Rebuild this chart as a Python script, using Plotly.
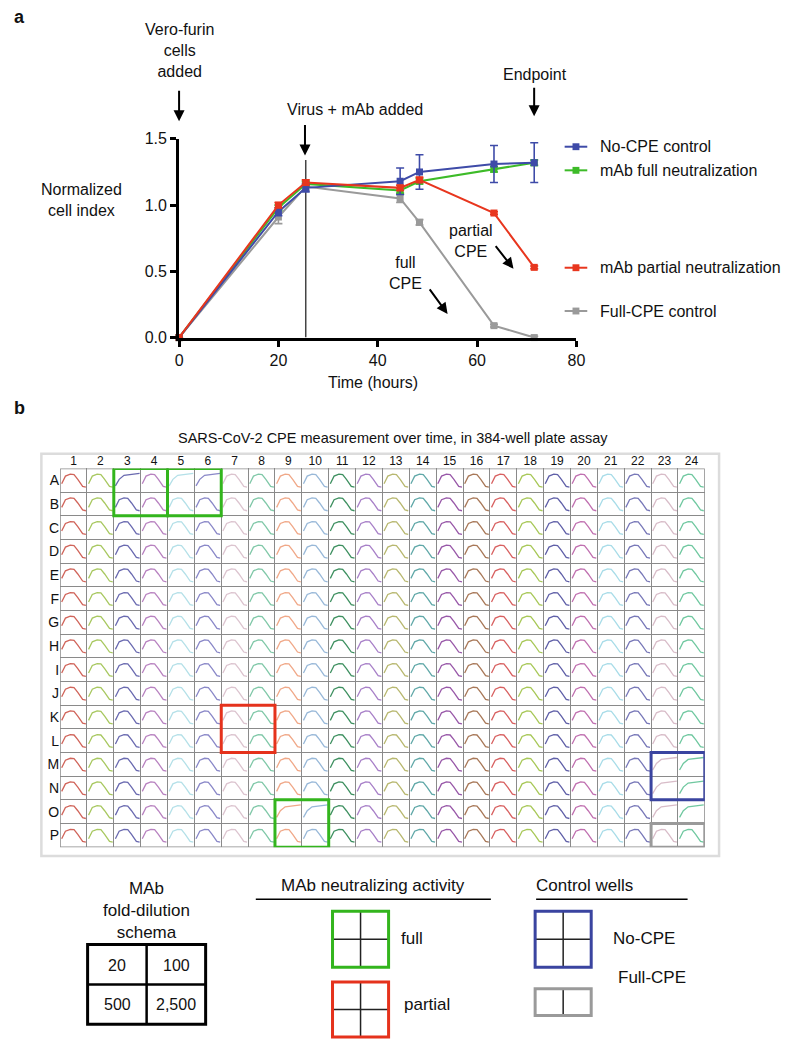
import plotly.graph_objects as go

# ---------------- Panel a data ----------------
time_h = [0, 20, 25.5, 44.5, 48.4, 63.4, 71.5]
no_cpe = [0.0, 0.95, 1.13, 1.18, 1.25, 1.31, 1.32]
no_cpe_err = [0.0, 0.03, 0.03, 0.10, 0.13, 0.14, 0.15]
mab_full = [0.0, 0.98, 1.16, 1.11, 1.18, 1.27, 1.32]
mab_full_err = [0.0, 0.02, 0.02, 0.02, 0.02, 0.02, 0.02]
mab_partial = [0.0, 1.00, 1.17, 1.13, 1.19, 0.94, 0.53]
mab_partial_err = [0.0, 0.02, 0.02, 0.02, 0.02, 0.01, 0.01]
full_cpe = [0.0, 0.91, 1.14, 1.05, 0.87, 0.09, 0.0]
full_cpe_err = [0.0, 0.05, 0.03, 0.03, 0.02, 0.01, 0.01]
series_names = ["No-CPE control", "mAb full neutralization",
                "mAb partial neutralization", "Full-CPE control"]

# ---------------- Panel b data ----------------
col_labels = [str(i) for i in range(1, 25)]
row_labels = list("ABCDEFGHIJKLMNOP")
col_colors = ["#d0645a", "#a8c860", "#6a6ab0", "#b882c0", "#b4e0e8", "#8a88c8",
              "#dcc4cf", "#80c8a8", "#f0a888", "#98b8d8", "#3e9060", "#a880c8",
              "#b8b870", "#60a8a8", "#9858a8", "#a87858", "#d86060", "#a8c858",
              "#6060a8", "#c070b0", "#a8dce8", "#7878b8", "#d8bcc8", "#70c8a0"]
# mini-curve shapes (relative x inside a well, relative height)
curve_x = [0.06, 0.2, 0.38, 0.52, 0.66, 0.84, 0.96]
bell_y = [0.32, 0.72, 0.82, 0.80, 0.55, 0.18, 0.14]
plateau_y = [0.20, 0.55, 0.76, 0.78, 0.80, 0.84, 0.86]
plateau_wells = ["A3", "A5", "A6", "O9", "O10", "M23", "M24", "N23", "N24", "O23", "O24"]
# highlight boxes: (first col, last col, first row, last row, colour)
box_cols0 = [3, 5, 9, 7, 23, 23]
box_cols1 = [4, 6, 10, 8, 24, 24]
box_rows0 = ["A", "A", "O", "K", "M", "P"]
box_rows1 = ["B", "B", "P", "L", "N", "P"]
box_colors = ["#33b51d", "#33b51d", "#33b51d", "#e5321c", "#3a44a0", "#9a9a9a"]
dilutions = ["20", "100", "500", "2,500"]

FONT = "Liberation Sans, Arial, sans-serif"
NARROW = "Liberation Sans Narrow, Liberation Sans, Arial, sans-serif"
W, H = 792, 1050


def px(x):
    return x / W


def py(y):
    return 1 - y / H


fig = go.Figure()

# ---------- panel a traces ----------
colors_a = {"No-CPE control": "#3e4ba8", "mAb full neutralization": "#3dbb28",
            "mAb partial neutralization": "#e8361e", "Full-CPE control": "#9a9a9a"}
data_a = {"No-CPE control": (no_cpe, no_cpe_err),
          "mAb full neutralization": (mab_full, mab_full_err),
          "mAb partial neutralization": (mab_partial, mab_partial_err),
          "Full-CPE control": (full_cpe, full_cpe_err)}
for name in ["Full-CPE control", "mAb full neutralization", "No-CPE control",
             "mAb partial neutralization"]:
    vals, err = data_a[name]
    c = colors_a[name]
    fig.add_trace(go.Scatter(
        x=time_h, y=vals, mode="lines+markers", name=name, showlegend=False,
        line=dict(color=c, width=2), marker=dict(symbol="square", size=7, color=c),
        error_y=dict(type="data", array=err, color=c, thickness=1.6, width=4),
        cliponaxis=False, xaxis="x", yaxis="y"))

# ---------- panel b mini curves ----------
for ci, col in enumerate(col_labels):
    xs, ys = [], []
    for ri, row in enumerate(row_labels):
        well = row + col
        shape = plateau_y if well in plateau_wells else bell_y
        for rx, ry in zip(curve_x, shape):
            xs.append(ci + rx)
            ys.append(ri + 1 - (0.1 + 0.8 * ry))
        xs.append(None)
        ys.append(None)
    fig.add_trace(go.Scatter(x=xs, y=ys, mode="lines", showlegend=False,
                             line=dict(color=col_colors[ci], width=1.3),
                             hoverinfo="skip", xaxis="x2", yaxis="y2"))

shapes = []
# outer light panel box
shapes.append(dict(type="rect", xref="paper", yref="paper", x0=px(38), x1=px(727),
                   y0=py(862), y1=py(453), line=dict(color="#dcdcdc", width=2.5),
                   layer="below"))
# plate border
shapes.append(dict(type="rect", xref="x2", yref="y2", x0=0, x1=24, y0=0, y1=16,
                   line=dict(color="#8a8a8a", width=1.5)))
# highlight boxes
for c0, c1, r0, r1, colr in zip(box_cols0, box_cols1, box_rows0, box_rows1, box_colors):
    shapes.append(dict(type="rect", xref="x2", yref="y2",
                       x0=c0 - 1, x1=c1, y0=row_labels.index(r0), y1=row_labels.index(r1) + 1,
                       line=dict(color=colr, width=3)))
# vertical line at virus addition
shapes.append(dict(type="line", xref="x", yref="y", x0=time_h[2], x1=time_h[2], y0=0, y1=1.34,
                   line=dict(color="#444444", width=1.5), layer="below"))

# panel a legend glyphs
legend_y = [141, 165, 264, 308]
for name, ly in zip(series_names, legend_y):
    c = colors_a[name]
    shapes.append(dict(type="line", xref="paper", yref="paper", x0=px(570), x1=px(593),
                       y0=py(ly), y1=py(ly), line=dict(color=c, width=2)))
    shapes.append(dict(type="rect", xref="paper", yref="paper", x0=px(578), x1=px(585),
                       y0=py(ly + 3.5), y1=py(ly - 3.5), fillcolor=c, line=dict(width=0)))

# ---------- bottom legend boxes ----------
def grid_box(x0, x1, y0, y1, color, width, rows=2, inner="#222222", inner_w=1.5):
    out = [dict(type="line", xref="paper", yref="paper", x0=px((x0 + x1) / 2), x1=px((x0 + x1) / 2),
                y0=py(y0), y1=py(y1), line=dict(color=inner, width=inner_w))]
    if rows == 2:
        out.append(dict(type="line", xref="paper", yref="paper", x0=px(x0), x1=px(x1),
                        y0=py((y0 + y1) / 2), y1=py((y0 + y1) / 2), line=dict(color=inner, width=inner_w)))
    out.append(dict(type="rect", xref="paper", yref="paper", x0=px(x0), x1=px(x1), y0=py(y1), y1=py(y0),
                    line=dict(color=color, width=width)))
    return out

shapes += grid_box(85, 205, 952, 1033, "#000000", 3, inner="#000000", inner_w=2.5)
shapes += grid_box(334, 391, 918, 975, "#33b51d", 3)
shapes += grid_box(334, 391, 990, 1046, "#e5321c", 3)
shapes += grid_box(540, 597, 918, 975, "#3a44a0", 3)
shapes += grid_box(540, 597, 997, 1024, "#9a9a9a", 3, rows=1)
# underlines
shapes.append(dict(type="line", xref="paper", yref="paper", x0=px(256), x1=px(495),
                   y0=py(906), y1=py(906), line=dict(color="#000", width=1.5)))
shapes.append(dict(type="line", xref="paper", yref="paper", x0=px(541), x1=px(695),
                   y0=py(906), y1=py(906), line=dict(color="#000", width=1.5)))

ann = []


def text(x, y, t, size=16, xa="center", ya="middle", font=FONT, bold=False):
    ann.append(dict(x=px(x), y=py(y), xref="paper", yref="paper", text=("<b>%s</b>" % t) if bold else t,
                    showarrow=False, xanchor=xa, yanchor=ya,
                    font=dict(family=font, size=size, color="#111111")))


def arrow(x_tail, y_tail, x_tip, y_tip):
    ann.append(dict(x=px(x_tip), y=py(y_tip), xref="paper", yref="paper", text="",
                    showarrow=True, ax=x_tail - x_tip, ay=y_tail - y_tip,
                    arrowhead=2, arrowsize=1.1, arrowwidth=2, arrowcolor="#000000"))


text(8, 9, "a", 18, xa="left", bold=True)
text(178, 43, "Vero-furin<br>cells<br>added", 16)
arrow(178, 83, 178, 115)
text(357, 103, "Virus + mAb added", 16)
arrow(306, 118, 306, 150)
text(540, 68, "Endpoint", 16)
arrow(539, 80, 539, 110)
text(79, 195, "Normalized<br>cell index", 16)
text(375, 381, "Time (hours)", 16)
text(475, 237, "partial<br>CPE", 16)
arrow(499, 241, 518, 265)
text(408, 269, "full<br>CPE", 16)
arrow(432, 285, 451, 311)
for name, ly in zip(series_names, legend_y):
    text(604, ly, name, 16, xa="left")

text(8, 407, "b", 18, xa="left", bold=True)
text(395, 437, "SARS-CoV-2 CPE measurement over time, in 384-well plate assay", 14.5)

text(145, 917, "MAb<br>fold-dilution<br>schema", 17, font=NARROW)
for lbl, (cx, cy) in zip(dilutions, [(115, 973), (175, 973), (115, 1013), (175, 1013)]):
    text(cx, cy, lbl, 16, font=NARROW)
text(375, 892, "MAb neutralizing activity", 17, font=NARROW)
text(590, 892, "Control wells", 17, font=NARROW)
text(402, 946, "full", 17, xa="left", font=NARROW)
text(405, 1013, "partial", 17, xa="left", font=NARROW)
text(617, 946, "No-CPE", 17, xa="left", font=NARROW)
text(622, 985, "Full-CPE", 17, xa="left", font=NARROW)

fig.update_layout(
    width=W, height=H, autosize=False, margin=dict(l=0, r=0, t=0, b=0),
    paper_bgcolor="white", plot_bgcolor="rgba(0,0,0,0)", showlegend=False,
    font=dict(family=FONT, color="#111111"),
    shapes=shapes, annotations=ann,
    xaxis=dict(domain=[px(178), px(582)], range=[0, 80], tickvals=[0, 20, 40, 60, 80],
               showline=True, linecolor="#000", linewidth=3, ticks="outside", ticklen=6,
               tickwidth=3, tickcolor="#000", showgrid=False, zeroline=False,
               tickfont=dict(size=16, family=FONT, color="#111"), anchor="y"),
    yaxis=dict(domain=[py(335), py(133)], range=[0, 1.5], tickvals=[0, 0.5, 1.0, 1.5],
               ticktext=["0.0", "0.5", "1.0", "1.5"],
               showline=True, linecolor="#000", linewidth=3, ticks="outside", ticklen=6,
               tickwidth=3, tickcolor="#000", showgrid=False, zeroline=False,
               tickfont=dict(size=16, family=FONT, color="#111"), anchor="x"),
    xaxis2=dict(domain=[px(57), px(712.5)], range=[0, 24], side="top", anchor="y2",
                tickvals=[i + 0.5 for i in range(24)], ticktext=col_labels, ticks="",
                showgrid=False, zeroline=False, showline=False,
                tickfont=dict(size=12, family=FONT, color="#111"),
                minor=dict(tick0=0, dtick=1, showgrid=True, gridcolor="#8a8a8a", gridwidth=1.3)),
    yaxis2=dict(domain=[py(853), py(468)], range=[16, 0], anchor="x2",
                tickvals=[i + 0.5 for i in range(16)], ticktext=row_labels, ticks="",
                showgrid=False, zeroline=False, showline=False,
                tickfont=dict(size=14, family=FONT, color="#111"),
                minor=dict(tick0=0, dtick=1, showgrid=True, gridcolor="#8a8a8a", gridwidth=1.3)),
)

fig.write_html("out.html", config={"displayModeBar": False},
               post_script="document.body.style.margin='0';document.body.style.overflow='hidden';")
